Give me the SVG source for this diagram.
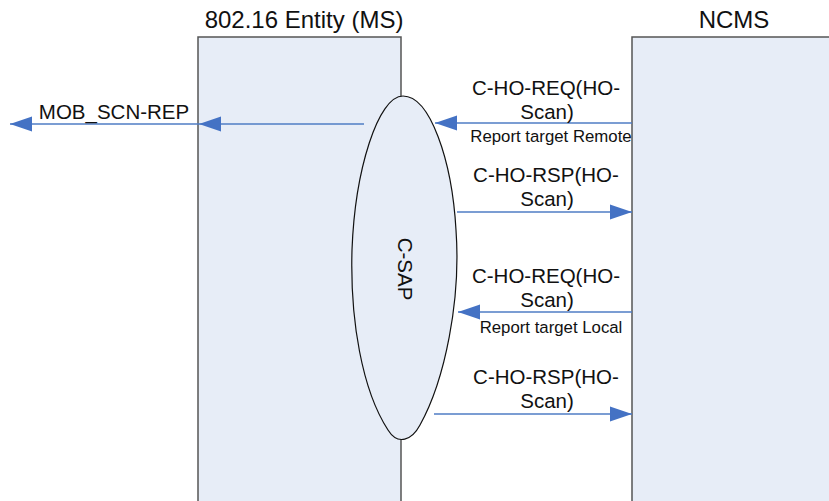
<svg xmlns="http://www.w3.org/2000/svg" width="829" height="501" viewBox="0 0 829 501">
<style>
.box{fill:#E7EDF7;stroke:#555;stroke-width:1.5}
.sap{fill:#E7EDF7;stroke:#111;stroke-width:1.2}
.t{font-family:"Liberation Sans",Arial,sans-serif;fill:#111}
.big{font-size:24px}
.lbl{font-size:20.5px}
.sm{font-size:16.8px}
.ln{stroke:#4F7CC4;stroke-width:1.3;fill:none}
.ah{fill:#4472C4}
</style>
<defs>
<marker id="arr" markerWidth="22" markerHeight="16" refX="22" refY="8" orient="auto" markerUnits="userSpaceOnUse">
<path class="ah" d="M22,8 L0,0.5 L0,15.5 Z"/>
</marker>
</defs>
<rect width="829" height="501" fill="#fff"/>
<g id="ms">
<rect class="box" x="198" y="37" width="203" height="470"/>
<text class="t big" x="304" y="28" text-anchor="middle">802.16 Entity (MS)</text>
</g>
<g id="ncms">
<rect class="box" x="632" y="37" width="210" height="470"/>
<text class="t big" x="734" y="28" text-anchor="middle">NCMS</text>
</g>
<g id="csap">
<path class="sap" d="M403,96 C430,96 452,160 456,230 C461,300 445,380 420,425 C412,440 398,446 388,430 C362,390 350,320 352,250 C355,170 378,96 403,96 Z"/>
<text class="t lbl" transform="translate(398,269) rotate(90)" text-anchor="middle">C-SAP</text>
</g>
<g id="connectors">
<line class="ln" x1="364" y1="124" x2="199" y2="124" marker-end="url(#arr)"/>
<line class="ln" x1="199" y1="124" x2="10" y2="124" marker-end="url(#arr)"/>
<line class="ln" x1="632" y1="123" x2="435" y2="123" marker-end="url(#arr)"/>
<line class="ln" x1="457" y1="212" x2="632" y2="212" marker-end="url(#arr)"/>
<line class="ln" x1="632" y1="312" x2="458" y2="312" marker-end="url(#arr)"/>
<line class="ln" x1="434" y1="414" x2="632" y2="414" marker-end="url(#arr)"/>
</g>
<g id="labels">
<text class="t lbl" x="114" y="119" text-anchor="middle">MOB_SCN-REP</text>
<text class="t lbl" x="546" y="95" text-anchor="middle">C-HO-REQ(HO-</text>
<text class="t lbl" x="547" y="119" text-anchor="middle">Scan)</text>
<text class="t sm" x="551" y="142" text-anchor="middle">Report target Remote</text>
<text class="t lbl" x="546" y="182" text-anchor="middle">C-HO-RSP(HO-</text>
<text class="t lbl" x="547" y="206" text-anchor="middle">Scan)</text>
<text class="t lbl" x="546" y="283" text-anchor="middle">C-HO-REQ(HO-</text>
<text class="t lbl" x="547" y="307" text-anchor="middle">Scan)</text>
<text class="t sm" x="551" y="333" text-anchor="middle">Report target Local</text>
<text class="t lbl" x="546" y="384" text-anchor="middle">C-HO-RSP(HO-</text>
<text class="t lbl" x="547" y="408" text-anchor="middle">Scan)</text>
</g>
</svg>
